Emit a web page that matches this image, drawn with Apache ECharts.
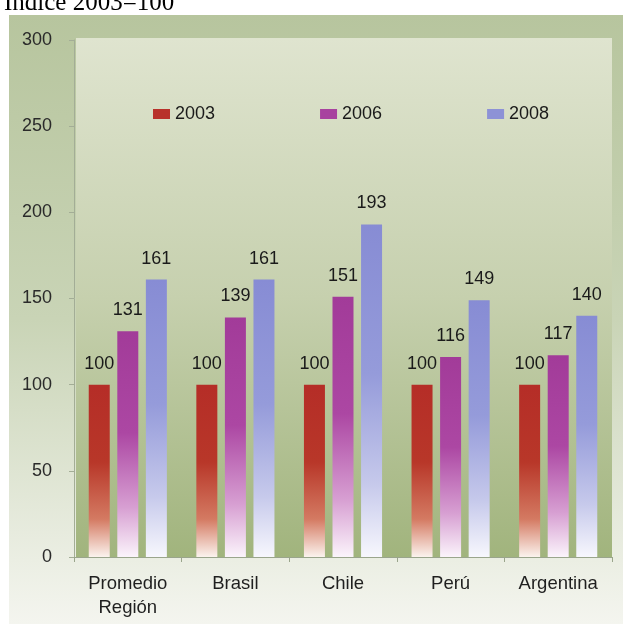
<!DOCTYPE html>
<html>
<head>
<meta charset="utf-8">
<script src="https://cdn.jsdelivr.net/npm/echarts@6/dist/echarts.min.js"></script>
<style>
  html, body { margin: 0; padding: 0; background: #ffffff; }
  #chart { width: 623px; height: 624px; }
</style>
</head>
<body>
<div id="chart"></div>
<script>
// Índice 2003 = 100 por país
const categories = ['Promedio\nRegión', 'Brasil', 'Chile', 'Perú', 'Argentina'];
const years = ['2003', '2006', '2008'];
const values2003 = [100, 100, 100, 100, 100];
const values2006 = [131, 139, 151, 116, 117];
const values2008 = [161, 161, 193, 149, 140];
const yTicks = { min: 0, max: 300, interval: 50 };

const chart = echarts.init(document.getElementById('chart'), null, { renderer: 'canvas' });

function fade(top, mid, low, bottom) {
  return new echarts.graphic.LinearGradient(0, 0, 0, 1, [
    { offset: 0, color: top },
    { offset: 0.45, color: mid },
    { offset: 0.78, color: low },
    { offset: 1, color: bottom }
  ]);
}

const palette = [
  { solid: '#b8322b', fill: fade('#b52d27', '#b83729', '#d47a62', '#fbf3ee') },
  { solid: '#a8429f', fill: fade('#a23b99', '#ac47a3', '#d79fd2', '#fbf4fb') },
  { solid: '#8d92d6', fill: fade('#878cd4', '#959bda', '#c6c9eb', '#f7f7fd') }
];

const seriesData = [values2003, values2006, values2008];

const font = 'Liberation Sans, Arial, sans-serif';

const plot = { left: 74, right: 11, top: 40, bottom: 67 };

chart.setOption({
  animation: false,
  backgroundColor: '#ffffff',
  title: {
    text: 'Índice 2003=100',
    left: -1,
    top: -14,
    textStyle: {
      fontFamily: 'Liberation Serif, Times New Roman, serif',
      fontSize: 25,
      fontWeight: 'normal',
      color: '#000000'
    }
  },
  graphic: [
    {
      type: 'rect',
      z: -10,
      shape: { x: 9, y: 15, width: 614, height: 609 },
      style: {
        fill: new echarts.graphic.LinearGradient(0, 0, 0, 1, [
          { offset: 0, color: '#b7c59e' },
          { offset: 0.5, color: '#c9d4b6' },
          { offset: 1, color: '#f4f5ef' }
        ])
      },
      silent: true
    },
    {
      type: 'rect',
      z: -9,
      shape: { x: 76, y: 38, width: 536, height: 519 },
      style: {
        fill: new echarts.graphic.LinearGradient(0, 0, 0, 1, [
          { offset: 0, color: '#dfe4cf' },
          { offset: 0.5, color: '#c6d0ae' },
          { offset: 1, color: '#a1b47d' }
        ])
      },
      silent: true
    }
  ],
  legend: {
    top: 100,
    left: 148,
    itemGap: 105,
    itemWidth: 17,
    itemHeight: 10,
    icon: 'rect',
    textStyle: { fontFamily: font, fontSize: 18, color: '#1a1a1a' },
    data: years.map((y, i) => ({ name: y, itemStyle: { color: palette[i].solid } }))
  },
  grid: Object.assign({ containLabel: false }, plot),
  xAxis: {
    type: 'category',
    data: categories,
    axisLine: { show: true, lineStyle: { color: '#9aa58c', width: 1 } },
    axisTick: { show: true, alignWithLabel: false, length: 5, lineStyle: { color: '#9aa58c' } },
    axisLabel: {
      fontFamily: font,
      fontSize: 18.5,
      color: '#1f1f1f',
      margin: 15,
      lineHeight: 24,
      interval: 0
    }
  },
  yAxis: {
    type: 'value',
    min: yTicks.min,
    max: yTicks.max,
    interval: yTicks.interval,
    axisLine: { show: true, lineStyle: { color: '#a3ad96', width: 1 } },
    axisTick: { show: true, length: 5, lineStyle: { color: '#a3ad96' } },
    splitLine: { show: false },
    axisLabel: {
      fontFamily: font,
      fontSize: 18,
      color: '#2a2a2a',
      margin: 22
    }
  },
  series: years.map((y, i) => ({
    name: y,
    type: 'bar',
    data: seriesData[i],
    barWidth: 21,
    barGap: '36%',
    itemStyle: { color: palette[i].fill },
    label: {
      show: true,
      position: 'top',
      distance: 12,
      fontFamily: font,
      fontSize: 18,
      color: '#1a1a1a'
    }
  }))
});
</script>
</body>
</html>
